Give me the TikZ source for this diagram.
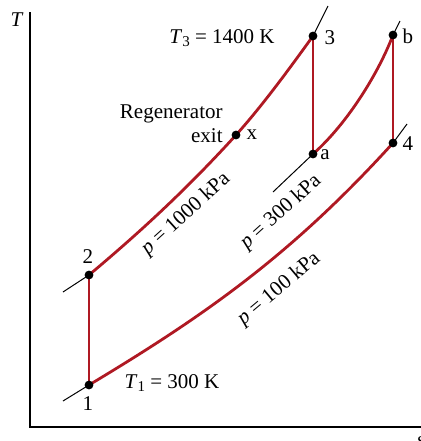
\documentclass[tikz,border=0pt]{standalone}
\usepackage{fontspec}
\setmainfont{Liberation Serif}
\definecolor{cyc}{RGB}{175,25,35}
\begin{document}
\begin{tikzpicture}[x=0.5pt,y=-0.5pt,
  lbl/.style={font=\fontsize{10.5}{12}\selectfont, inner sep=0pt},
  cycle/.style={draw=cyc, line width=1.4pt},
  iso/.style={draw=black, line width=0.5pt},
  axis/.style={draw=black, line width=0.8pt},
  dot/.style={circle, fill=black, inner sep=0pt, minimum size=4.4pt}]
\useasboundingbox (0,0) rectangle (421,441);
% axes
\coordinate (otop) at (30,12);
\coordinate (o) at (30,427);
\coordinate (oright) at (425,427);
\draw[axis] (otop) -- (o) -- (oright);
\node[lbl] (Tlab) at (17,20) {\textit{T}};
\node[lbl] (slab) at (421,442) {\textit{s}};
% state points
\coordinate (p1) at (89,385);
\coordinate (p2) at (89,275);
\coordinate (px) at (236,135);
\coordinate (p3) at (313,36);
\coordinate (pa) at (313,154);
\coordinate (pb) at (393,35);
\coordinate (p4) at (393,143);
% isobar extensions
\coordinate (e1) at (63,401);
\coordinate (e2) at (63,292);
\coordinate (e3) at (328,6);
\coordinate (ea) at (273,192);
\coordinate (eb) at (400,21);
\coordinate (e4) at (407,124);
\draw[iso] (e1) -- (p1);
\draw[iso] (e2) -- (p2);
\draw[iso] (p3) -- (e3);
\draw[iso] (ea) -- (pa);
\draw[iso] (pb) -- (eb);
\draw[iso] (p4) -- (e4);
% cycle
\draw[cycle] (p1) -- (p2);
\draw[cycle] (p2) .. controls (139,233) and (186,190) .. (px)
             .. controls (262,106) and (287,72) .. (p3);
\draw[cycle] (p3) -- (pa);
\draw[cycle] (pa) .. controls (348,123) and (379,72) .. (pb);
\draw[cycle] (pb) -- (p4);
\draw[cycle] (p1) .. controls (209,313) and (293,253) .. (p4);
% dots
\foreach \p in {p1,p2,px,p3,pa,pb,p4} \node[dot] at (\p) {};
% labels
\node[lbl] (l1) at (88,404) {1};
\node[lbl] (l2) at (88,257) {2};
\node[lbl] (l3) at (330,38) {3};
\node[lbl] (la) at (325,155) {a};
\node[lbl] (lb) at (408,36) {b};
\node[lbl] (l4) at (408,144) {4};
\node[lbl] (lx) at (252,135) {x};
\node[lbl, anchor=east, align=right] (regen) at (223,124) {Regenerator\\exit};
\node[lbl] (T1) at (172,383) {\textit{T}\raisebox{-0.35ex}{\fontsize{7.5}{8}\selectfont 1} = 300 K};
\node[lbl] (T3) at (222,38) {\textit{T}\raisebox{-0.35ex}{\fontsize{7.5}{8}\selectfont 3} = 1400 K};
\node[lbl, rotate=42] (p1000) at (186,214) {\textit{p} = 1000 kPa};
\node[lbl, rotate=42] (p300) at (281,212) {\textit{p} = 300 kPa};
\node[lbl, rotate=40] (p100) at (279,289) {\textit{p} = 100 kPa};
\end{tikzpicture}
\end{document}
